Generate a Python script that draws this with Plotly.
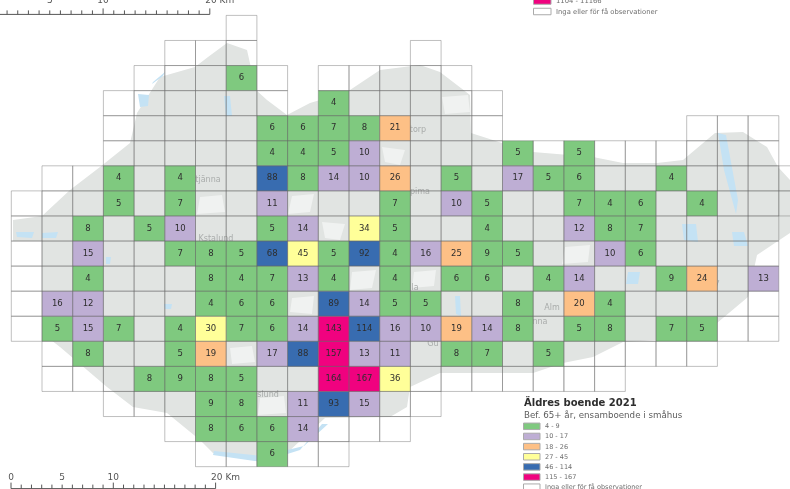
"""
Äldres boende 2021 - grid map of single-living 65+ in small houses
"""
from bisect import bisect_left

import plotly.graph_objects as go

_ = None  # no grid cell here; 0 = cell with no or too few observations

# one row per grid row, one column per grid column
cell_values = [
    [_, _, _, _, _, _, _, 0, _, _, _, _, _, _, _, _, _, _, _, _, _, _, _, _, _, _],
    [_, _, _, _, _, 0, 0, 0, _, _, _, _, _, 0, _, _, _, _, _, _, _, _, _, _, _, _],
    [_, _, _, _, 0, 0, 0, 6, 0, _, 0, 0, 0, 0, 0, _, _, _, _, _, _, _, _, _, _, _],
    [_, _, _, 0, 0, 0, 0, 0, 0, _, 4, 0, 0, 0, 0, 0, _, _, _, _, _, _, _, _, _, _],
    [_, _, _, 0, 0, 0, 0, 0, 6, 6, 7, 8, 21, 0, 0, 0, _, _, _, _, _, _, 0, 0, 0, _],
    [_, _, _, 0, 0, 0, 0, 0, 4, 4, 5, 10, 0, 0, 0, 0, 5, 0, 5, 0, 0, 0, 0, 0, 0, _],
    [_, 0, 0, 4, 0, 4, 0, 0, 88, 8, 14, 10, 26, 0, 5, 0, 17, 5, 6, 0, 0, 4, 0, 0, 0, 0],
    [0, 0, 0, 5, 0, 7, 0, 0, 11, 0, 0, 0, 7, 0, 10, 5, 0, 0, 7, 4, 6, 0, 4, 0, 0, 0],
    [0, 0, 8, 0, 5, 10, 0, 0, 5, 14, 0, 34, 5, 0, 0, 4, 0, 0, 12, 8, 7, 0, 0, 0, 0, _],
    [0, 0, 15, 0, 0, 7, 8, 5, 68, 45, 5, 92, 4, 16, 25, 9, 5, 0, 0, 10, 6, 0, 0, 0, 0, _],
    [0, 0, 4, 0, 0, 0, 8, 4, 7, 13, 4, 0, 4, 0, 6, 6, 0, 4, 14, 0, 0, 9, 24, 0, 13, _],
    [0, 16, 12, 0, 0, 0, 4, 6, 6, 0, 89, 14, 5, 5, 0, 0, 8, 0, 20, 4, 0, 0, 0, 0, 0, _],
    [0, 5, 15, 7, 0, 4, 30, 7, 6, 14, 143, 114, 16, 10, 19, 14, 8, 0, 5, 8, 0, 7, 5, 0, 0, _],
    [_, 0, 8, 0, 0, 5, 19, 0, 17, 88, 157, 13, 11, 0, 8, 7, 0, 5, 0, 0, 0, 0, 0, _, _, _],
    [_, 0, 0, 0, 8, 9, 8, 5, 0, 0, 164, 167, 36, 0, 0, 0, 0, 0, 0, 0, _, _, _, _, _, _],
    [_, _, _, 0, 0, 0, 9, 8, 0, 11, 93, 15, 0, 0, _, _, _, _, _, _, _, _, _, _, _, _],
    [_, _, _, _, _, 0, 8, 6, 6, 14, 0, 0, 0, _, _, _, _, _, _, _, _, _, _, _, _, _],
    [_, _, _, _, _, _, 0, 0, 6, 0, 0, _, _, _, _, _, _, _, _, _, _, _, _, _, _, _],
]

class_upper = [9, 17, 26, 45, 114, 167]
class_colors = ['#7fc97f', '#beaed4', '#fdc086', '#ffff99', '#386cb0', '#f0027f']
legend_labels = ['4 - 9', '10 - 17', '18 - 26', '27 - 45', '46 - 114', '115 - 167']
no_data_label = 'Inga eller för få observationer'
top_legend_label = '1104 - 11166'

# background map, traced in map units
land_x = [13, 42, 70, 100, 130, 137, 160, 195, 208, 227, 247, 256, 267, 287, 310, 347, 380,
          420, 440, 470, 471, 502, 533, 593, 623, 657, 683, 715, 743, 767, 778, 790, 790, 757,
          748, 717, 657, 623, 593, 563, 533, 440, 410, 407, 390, 325, 287, 260, 213, 200, 167,
          133, 107, 83, 60, 42, 42, 13]
land_y = [220, 216, 190, 167, 143, 113, 77, 67, 57, 43, 50, 90, 100, 115, 103, 92, 70,
          65, 72, 95, 133, 143, 152, 157, 163, 163, 160, 133, 132, 147, 167, 180, 233, 255,
          297, 323, 340, 342, 357, 363, 373, 373, 387, 407, 417, 418, 453, 460, 453, 440, 413,
          407, 387, 367, 347, 333, 241, 241]
patch_x = [[322, 345, 340, 325], [382, 405, 400, 385], [352, 376, 372, 350], [292, 314, 312, 290],
           [292, 314, 310, 288], [230, 252, 255, 232], [260, 284, 286, 258], [200, 222, 225, 197],
           [200, 222, 218, 198], [442, 468, 470, 445], [414, 436, 434, 412], [565, 590, 588, 562]]
patch_y = [[222, 224, 240, 238], [147, 150, 165, 162], [272, 270, 288, 290], [298, 296, 314, 312],
           [196, 194, 212, 214], [348, 346, 362, 364], [398, 396, 413, 415], [197, 195, 212, 214],
           [272, 270, 288, 290], [97, 95, 112, 114], [272, 270, 286, 288], [247, 245, 262, 264]]
lake_x = [[138, 149, 148, 140], [224, 230, 232, 226], [153, 165, 163, 152], [16, 34, 32, 17],
          [42, 58, 56, 42], [718, 726, 738, 736, 724], [682, 696, 698, 684], [628, 640, 638, 626],
          [455, 460, 461, 456], [213, 262, 300, 322, 328, 304, 262, 214],
          [164, 172, 171, 165], [106, 111, 110, 106], [732, 744, 748, 734]]
lake_y = [[94, 95, 106, 107], [96, 96, 116, 116], [82, 72, 76, 84], [232, 232, 238, 237],
          [233, 232, 238, 238], [133, 135, 200, 214, 170], [224, 224, 242, 240], [272, 272, 284, 284],
          [296, 296, 316, 314], [455, 462, 450, 424, 424, 446, 456, 451],
          [304, 304, 309, 309], [257, 257, 264, 264], [232, 232, 246, 246]]
place_names = ['tjänna', 'Kstalund', 'torp', 'pima', 'Alm', 'nna', 'Gu', 'la', 'slund', 'y']
place_x = [208, 216, 418, 420, 552, 540, 433, 415, 268, 717]
place_y = [180, 239, 130, 192, 308, 322, 344, 288, 395, 283]

# scale bars
scale_ticks = list(range(0, 21))
scale_labels = ['0', '5', '10', '20 Km']
scale_label_km = [0, 5, 10, 20]

# grid placement on the map
GRID_X0, GRID_Y0 = 11.3, 15.4
CELL_W, CELL_H = 30.7, 25.07
FONT = 'DejaVu Sans'


def cell_path(row, col):
    x0 = GRID_X0 + col * CELL_W
    y0 = GRID_Y0 + row * CELL_H
    return [x0, x0 + CELL_W, x0 + CELL_W, x0, x0, None], [y0, y0, y0 + CELL_H, y0 + CELL_H, y0, None]


def polygons(xs_list, ys_list):
    xs, ys = [], []
    for px, py in zip(xs_list, ys_list):
        xs += px + [px[0], None]
        ys += py + [py[0], None]
    return xs, ys


cells = [(r, c, v) for r, row in enumerate(cell_values) for c, v in enumerate(row) if v is not None]

fig = go.Figure()

fig.add_trace(go.Scatter(x=land_x, y=land_y, fill='toself', fillcolor='#e1e4e2',
                         mode='lines', line=dict(width=0), hoverinfo='skip'))
px, py = polygons(patch_x, patch_y)
fig.add_trace(go.Scatter(x=px, y=py, fill='toself', fillcolor='rgba(255,255,255,0.5)',
                         mode='lines', line=dict(width=0), hoverinfo='skip'))
px, py = polygons(lake_x, lake_y)
fig.add_trace(go.Scatter(x=px, y=py, fill='toself', fillcolor='#c4e2f4',
                         mode='lines', line=dict(width=0), hoverinfo='skip'))
fig.add_trace(go.Scatter(x=place_x, y=place_y, text=place_names, mode='text',
                         textfont=dict(family=FONT, size=8, color='#a9acab'), hoverinfo='skip'))

# filled cells, one trace per class
for k, color in enumerate(class_colors):
    xs, ys = [], []
    for r, c, v in cells:
        if v and bisect_left(class_upper, v) == k:
            cx, cy = cell_path(r, c)
            xs += cx
            ys += cy
    fig.add_trace(go.Scatter(x=xs, y=ys, fill='toself', fillcolor=color, mode='lines',
                             line=dict(width=0), hoverinfo='skip'))

# outlines: even and odd cells apart, so shared edges come out darker than outer ones
for parity in (0, 1):
    xs, ys = [], []
    for r, c, v in cells:
        if (r + c) % 2 == parity:
            cx, cy = cell_path(r, c)
            xs += cx
            ys += cy
    fig.add_trace(go.Scatter(x=xs, y=ys, mode='lines', hoverinfo='skip',
                             line=dict(color='rgba(105,105,105,0.42)', width=1)))

numbered = [(r, c, v) for r, c, v in cells if v]
fig.add_trace(go.Scatter(
    x=[GRID_X0 + (c + 0.5) * CELL_W for r, c, v in numbered],
    y=[GRID_Y0 + (r + 0.5) * CELL_H for r, c, v in numbered],
    text=[str(v) for r, c, v in numbered],
    mode='text',
    textfont=dict(family=FONT, size=8.5, color='#2e2e2e'),
    hoverinfo='skip'
))

# scale bars: (x at 0 km, map units per km, baseline y, label y)
for x0, per_km, base, label_y in [(-3.6, 10.67, 14.4, 1), (11, 10.23, 488.6, 477.5)]:
    xs, ys = [x0, x0 + 20 * per_km, None], [base, base, None]
    for km in scale_ticks:
        xs += [x0 + km * per_km, x0 + km * per_km, None]
        ys += [base - (6 if km % 10 == 0 else 4), base, None]
    fig.add_trace(go.Scatter(x=xs, y=ys, mode='lines', hoverinfo='skip',
                             line=dict(color='#555555', width=1)))
    fig.add_trace(go.Scatter(
        x=[x0 + km * per_km + (10 if km == 20 else 0) for km in scale_label_km],
        y=[label_y] * len(scale_labels),
        text=scale_labels, mode='text',
        textfont=dict(family=FONT, size=9, color='#555555'), hoverinfo='skip'
    ))

shapes = []
annotations = []


def add_text(x, y, text, size, color):
    annotations.append(dict(x=x, y=y, text=text, showarrow=False, xanchor='left', yanchor='middle',
                            xref='x', yref='y', xshift=-1, font=dict(family=FONT, size=size, color=color)))


def add_swatch(x, y, w, h, fill):
    shapes.append(dict(type='rect', x0=x, x1=x + w, y0=y - h / 2, y1=y + h / 2, xref='x', yref='y',
                       fillcolor=fill, line=dict(color='#aaaaaa', width=1)))


# legend at the bottom
add_text(523, 401, '<b>Äldres boende 2021</b>', 10, '#2e2e2e')
add_text(523, 414.5, 'Bef. 65+ år, ensamboende i småhus', 8.7, '#5c5c5c')
for i, (label, color) in enumerate(zip(legend_labels + [no_data_label], class_colors + ['#ffffff'])):
    y = 426.3 + i * 10.15
    add_swatch(523.5, y, 16.5, 6.5, color)
    add_text(544, y, label, 6.5, '#6e6e6e')

# cut-off copy of the legend at the top
add_swatch(533.5, 1, 17.5, 6.5, class_colors[5])
add_text(555, 0.5, top_legend_label, 6.8, '#6e6e6e')
add_swatch(533.5, 11.5, 17.5, 6.5, '#ffffff')
add_text(555, 11.5, no_data_label, 6.8, '#6e6e6e')

fig.update_layout(
    width=790,
    height=489,
    margin=dict(l=0, r=0, t=0, b=0),
    paper_bgcolor='white',
    plot_bgcolor='white',
    showlegend=False,
    shapes=shapes,
    annotations=annotations,
    xaxis=dict(range=[0, 790], visible=False, fixedrange=True),
    yaxis=dict(range=[489, 0], visible=False, fixedrange=True),
)

# the page's default body margin would push the figure off its 790x489 frame;
# the source picture is a soft upscale, hence the slight blur
page_js = ("document.body.style.margin='0';document.body.style.overflow='hidden';"
           "document.querySelector('.plotly-graph-div').style.filter='blur(0.45px)';")
fig.write_html("out.html", post_script=page_js, config=dict(displayModeBar=False))
